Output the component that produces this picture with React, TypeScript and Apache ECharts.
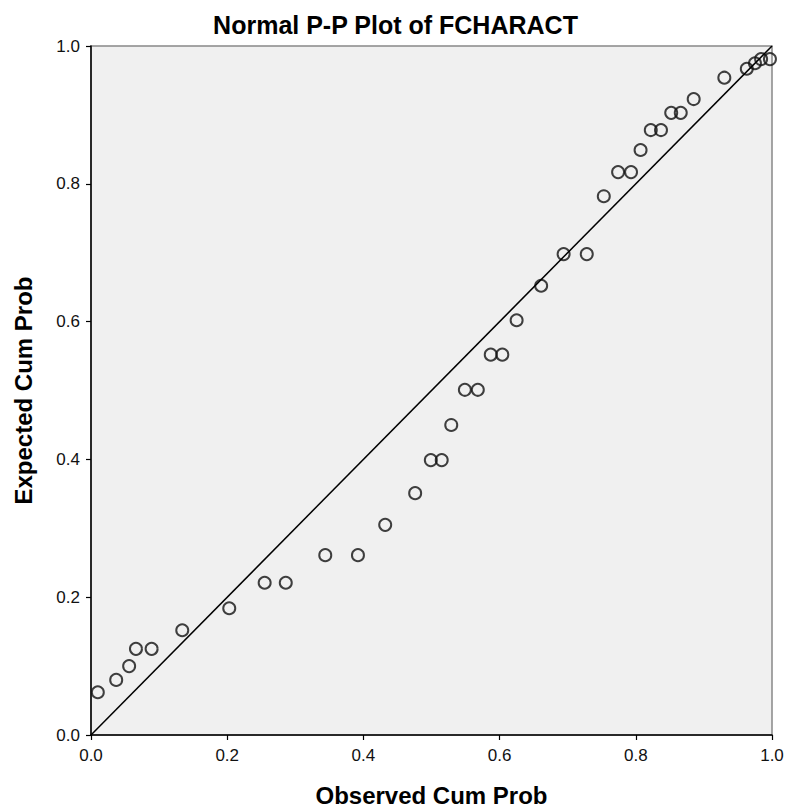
import React, { useEffect, useRef } from "react";
import * as echarts from "echarts";

const observedCumProb = [
  0.010, 0.037, 0.056, 0.066, 0.089, 0.134, 0.203, 0.255, 0.286, 0.344,
  0.392, 0.432, 0.476, 0.499, 0.515, 0.529, 0.549, 0.568, 0.587, 0.604,
  0.625, 0.661, 0.694, 0.728, 0.753, 0.774, 0.793, 0.807, 0.822, 0.837,
  0.852, 0.866, 0.885, 0.930, 0.963, 0.975, 0.984, 0.997,
];
const expectedCumProb = [
  0.062, 0.080, 0.100, 0.125, 0.125, 0.152, 0.184, 0.221, 0.221, 0.261,
  0.261, 0.305, 0.351, 0.399, 0.399, 0.450, 0.501, 0.501, 0.552, 0.552,
  0.602, 0.652, 0.698, 0.698, 0.782, 0.817, 0.817, 0.849, 0.878, 0.878,
  0.903, 0.903, 0.923, 0.954, 0.967, 0.975, 0.981, 0.981,
];
const referenceLine = [
  [0, 0],
  [1, 1],
];
const tickValues = [0, 0.2, 0.4, 0.6, 0.8, 1.0];

const FONT = "'Liberation Sans', Arial, sans-serif";

export default function App() {
  const ref = useRef<HTMLDivElement>(null);
  useEffect(() => {
    document.body.style.margin = "0";
    if (!ref.current) return;
    const chart = echarts.init(ref.current, undefined, { renderer: "svg" });
    const points = observedCumProb.map((x, i) => [x, expectedCumProb[i]]);
    const axisCommon = {
      type: "value" as const,
      min: 0,
      max: 1,
      interval: 0.2,
      nameLocation: "middle" as const,
      nameTextStyle: { fontFamily: FONT, fontWeight: "bold", fontSize: 24, color: "#000" },
      axisLine: { show: true, lineStyle: { color: "#000", width: 1.5 } },
      axisTick: { show: true, length: 5, lineStyle: { color: "#000", width: 1.2 } },
      axisLabel: {
        fontFamily: FONT,
        fontSize: 17,
        color: "#111",
        formatter: (v: number) => (tickValues.includes(Math.round(v * 10) / 10) ? v.toFixed(1) : ""),
      },
      splitLine: { show: false },
    };
    chart.setOption({
      animation: false,
      backgroundColor: "#fff",
      title: {
        text: "Normal P-P Plot of FCHARACT",
        left: "center",
        top: 7,
        textStyle: { fontFamily: FONT, fontWeight: "bold", fontSize: 25, color: "#000" },
      },
      grid: {
        left: 91,
        right: 19,
        top: 46,
        bottom: 75,
        containLabel: false,
        outerBoundsMode: "none",
        show: true,
        backgroundColor: "#f0f0f0",
        borderColor: "#888",
        borderWidth: 1.5,
      },
      xAxis: {
        ...axisCommon,
        name: "Observed Cum Prob",
        nameGap: 48,
        axisLabel: { ...axisCommon.axisLabel, margin: 12 },
      },
      yAxis: {
        ...axisCommon,
        name: "Expected Cum Prob",
        nameGap: 56,
        axisLabel: { ...axisCommon.axisLabel, margin: 11 },
      },
      series: [
        {
          type: "line",
          data: referenceLine,
          symbol: "none",
          lineStyle: { color: "#000", width: 1.5 },
          silent: true,
        },
        {
          type: "scatter",
          data: points,
          symbol: "circle",
          symbolSize: 12,
          itemStyle: { color: "rgba(0,0,0,0)", borderColor: "#111", borderWidth: 2 },
        },
      ],
    });
    return () => chart.dispose();
  }, []);
  return <div ref={ref} style={{ width: 791, height: 810 }} />;
}
